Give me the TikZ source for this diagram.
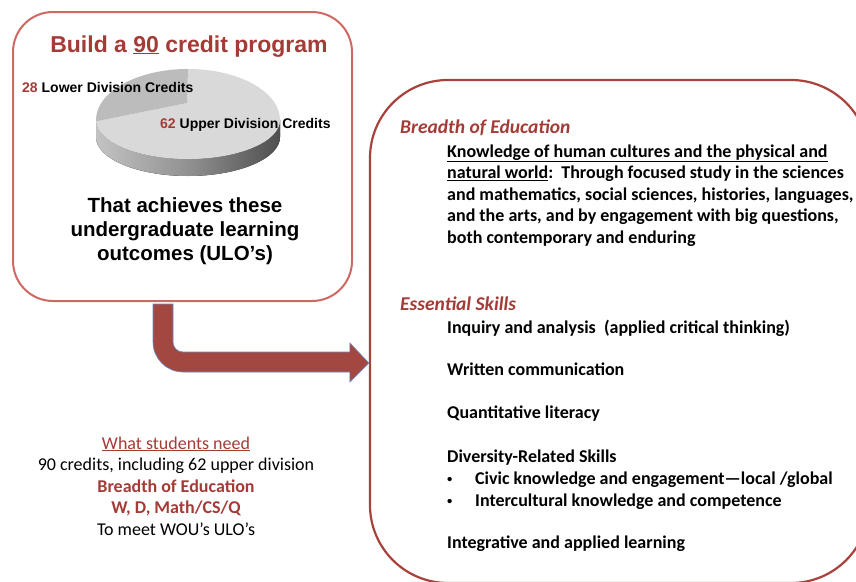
\documentclass[tikz,border=0pt]{standalone}
\usepackage{fontspec}
\setmainfont{Carlito}
\newfontfamily\arialf{Liberation Sans}
\usetikzlibrary{calc}
\definecolor{wine}{RGB}{163,60,55}
\definecolor{boxred}{RGB}{168,66,60}
\definecolor{lightred}{RGB}{206,104,98}
\definecolor{arrowred}{RGB}{163,72,64}
\definecolor{arrowedge}{RGB}{110,140,200}
\definecolor{sliceA}{RGB}{188,188,188}
\definecolor{sliceB}{RGB}{217,217,217}
\definecolor{rimL}{RGB}{195,195,195}
\definecolor{rimM}{RGB}{145,145,145}
\definecolor{rimR}{RGB}{78,78,78}
% outline of the bent arrow, from the start point \p1 to the tip \p2
\newcommand\bentarrowpath{%
  (\x1-10,\y1-2) -- (\x1-10,\y2+21) arc[start angle=180, end angle=270, radius=30pt]
  -- (\x2-19,\y2-9) -- (\x2-19,\y2-19) -- (\p2) -- (\x2-19,\y2+20)
  -- (\x2-19,\y2+11) -- (\x1+20,\y2+11) arc[start angle=270, end angle=180, radius=10pt]
  -- (\x1+10,\y1-2) -- cycle}
\begin{document}
\begin{tikzpicture}[x=1pt,y=1pt,
  lboxstyle/.style={draw=lightred, line width=2pt, rounded corners=40pt,
    minimum width=339pt, minimum height=289pt, inner sep=0pt},
  rboxstyle/.style={draw=boxred, line width=2.2pt, rounded corners=78pt,
    minimum width=499pt, minimum height=503pt, inner sep=0pt},
  titletext/.style={anchor=base, inner sep=0pt, text=wine,
    font=\arialf\bfseries\fontsize{23}{27}\selectfont},
  pielabel/.style={anchor=base west, inner sep=0pt,
    font=\arialf\bfseries\fontsize{14}{16}\selectfont},
  bigtext/.style={anchor=base, inner sep=0pt,
    font=\arialf\bfseries\fontsize{20.5}{24}\selectfont},
  heading/.style={anchor=base west, inner sep=0pt, text=wine,
    font=\bfseries\itshape\fontsize{19.5}{23}\selectfont},
  body/.style={anchor=base west, inner sep=0pt,
    font=\bfseries\fontsize{18}{21}\selectfont},
  bulletmark/.style={anchor=base west, inner sep=0pt,
    font=\arialf\bfseries\fontsize{15}{18}\selectfont},
  note/.style={anchor=base, inner sep=0pt,
    font=\fontsize{18}{21}\selectfont},
  notebold/.style={note, text=wine, font=\bfseries\fontsize{18}{21}\selectfont},
  arrowbody/.style={fill=arrowred, draw=arrowedge, line width=0.6pt},
]
\useasboundingbox (0,0) rectangle (856,-581);
\fill[white] (0,0) rectangle (856,-581);
\clip (0,0) rectangle (856,-581);

% ---- left panel ----
\node[lboxstyle] (lbox) at (182.5,-156.5) {};
\node[titletext] (title) at (189,-52) {Build a \underline{90} credit program};

% 3D pie chart seen in perspective: far half of the rim flatter than the near half
\fill[left color=rimL, right color=rimR, middle color=rimM]
  (96pt,-120pt) arc[start angle=180, end angle=360, x radius=92pt, y radius=39pt]
  -- ++(0pt,-17pt) arc[start angle=360, end angle=180, x radius=92pt, y radius=39pt] -- cycle;
\fill[sliceB] (187pt,-103pt) -- (188pt,-69pt)
  arc[start angle=90, end angle=0, x radius=92pt, y radius=51pt]
  arc[start angle=360, end angle=182, x radius=92pt, y radius=39pt] -- cycle;
\fill[sliceA] (187pt,-103pt) -- (188pt,-69pt)
  arc[start angle=90, end angle=180, x radius=92pt, y radius=51pt]
  arc[start angle=180, end angle=182, x radius=92pt, y radius=39pt] -- cycle;

\node[pielabel] (lower) at (22,-92) {\textcolor{wine}{28} Lower Division Credits};
\node[pielabel] (upper) at (160,-128) {\textcolor{wine}{62} Upper Division Credits};

\node[bigtext] (ach1) at (185,-212) {That achieves these};
\node[bigtext] (ach2) at (185,-236) {undergraduate learning};
\node[bigtext] (ach3) at (185,-260) {outcomes (ULO’s)};

% ---- right panel ----
\node[rboxstyle] (rbox) at (619.5,-331.5) {};

\node[heading] (h1) at (400,-133) {Breadth of Education};
\node[body] (k1) at (447,-157) {\underline{Knowledge of human cultures and the physical and}};
\node[body] (k2) at (447,-178.5) {\underline{natural world}:\ \ Through focused study in the sciences};
\node[body] (k3) at (447,-200) {and mathematics, social sciences, histories, languages,};
\node[body] (k4) at (447,-221.5) {and the arts, and by engagement with big questions,};
\node[body] (k5) at (447,-243) {both contemporary and enduring};

\node[heading] (h2) at (400,-310) {Essential Skills};
\node[body] (s1) at (447,-333) {Inquiry and analysis\ \ (applied critical thinking)};
\node[body] (s2) at (447,-375) {Written communication};
\node[body] (s3) at (447,-418) {Quantitative literacy};
\node[body] (s4) at (447,-462) {Diversity-Related Skills};
\node[bulletmark] (b1) at (447,-484) {•};
\node[body] (s5) at (475,-484) {Civic knowledge and engagement—local /global};
\node[bulletmark] (b2) at (447,-506) {•};
\node[body] (s6) at (475,-506) {Intercultural knowledge and competence};
\node[body] (s7) at (447,-548) {Integrative and applied learning};

% ---- notes below the left panel ----
\node[note, text=wine] (n1) at (176,-449) {\underline{What students need}};
\node[note] (n2) at (176,-470.5) {90 credits, including 62 upper division};
\node[notebold] (n3) at (176,-492) {Breadth of Education};
\node[notebold] (n4) at (176,-513.5) {W, D, Math/CS/Q};
\node[note] (n5) at (176,-535) {To meet WOU’s ULO’s};

% ---- bent arrow from the left panel to the right panel ----
\coordinate (aS) at ($(lbox.south)+(-19.5,0)$);
\coordinate (tip) at ($(rbox.west)+(0,-31.5)$);
\begin{scope}[shift={(1,-3)}]
  \fill[black, opacity=0.15] let \p1=(aS), \p2=(tip) in \bentarrowpath;
\end{scope}
\path[arrowbody] let \p1=(aS), \p2=(tip) in \bentarrowpath;
\end{tikzpicture}
\end{document}
